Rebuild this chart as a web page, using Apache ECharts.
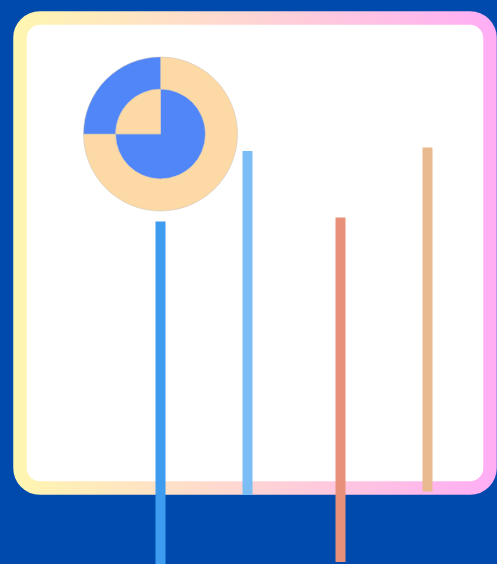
<!DOCTYPE html>
<html>
<head>
<meta charset="utf-8">
<script src="https://cdn.jsdelivr.net/npm/echarts@6/dist/echarts.min.js"></script>
<style>
html,body{margin:0;padding:0;background:#004aad;}
#main{width:497px;height:564px;}
</style>
</head>
<body>
<div id="main"></div>
<script>
// Data
const categories = ['A', 'B'];
const lowSeries1 = [0, 0.4];
const highSeries1 = [68.5, 69.3];
const lowSeries2 = [13.8, 14.5];
const highSeries2 = [82.6, 83.3];
const colorsSeries1 = ['#3d9cf0', '#e9907a'];
const colorsSeries2 = ['#7bbdf5', '#e9ba90'];
const innerPie = [{ name: 'a', value: 75 }, { name: 'b', value: 25 }];
const outerPie = [{ name: 'a', value: 75 }, { name: 'b', value: 25 }];
const innerColors = ['#5086f8', '#fdd9a6'];
const outerColors = ['#fdd9a6', '#5086f8'];

const chart = echarts.init(document.getElementById('main'));

function rangeData(highs, lows, colors) {
  return highs.map((h, i) => ({ value: h - lows[i], itemStyle: { color: colors[i] } }));
}

const option = {
  backgroundColor: '#004aad',
  animation: false,
  graphic: [{
    type: 'rect',
    z: -10,
    shape: { x: 20, y: 18, width: 470, height: 470, r: 20 },
    style: {
      fill: '#ffffff',
      lineWidth: 13.5,
      stroke: new echarts.graphic.LinearGradient(0, 0, 1, 0, [
        { offset: 0, color: '#fff6b0' },
        { offset: 0.5, color: '#ffd4d4' },
        { offset: 1, color: '#ffadf5' }
      ])
    }
  }],
  grid: { left: 114, width: 360, top: 64, bottom: 0 },
  xAxis: { type: 'category', data: categories, show: false, boundaryGap: true },
  yAxis: { type: 'value', min: 0, max: 100, show: false, splitLine: { show: false } },
  series: [
    { type: 'bar', stack: 's1', data: lowSeries1, barWidth: 10, barGap: '770%', itemStyle: { color: 'transparent' }, silent: true },
    { type: 'bar', stack: 's1', data: rangeData(highSeries1, lowSeries1, colorsSeries1), barWidth: 10, barGap: '770%' },
    { type: 'bar', stack: 's2', data: lowSeries2, barWidth: 10, barGap: '770%', itemStyle: { color: 'transparent' }, silent: true },
    { type: 'bar', stack: 's2', data: rangeData(highSeries2, lowSeries2, colorsSeries2), barWidth: 10, barGap: '770%' },
    {
      type: 'pie', center: [160.5, 134], radius: [0, 45], label: { show: false }, labelLine: { show: false },
      z: 5,
      itemStyle: { borderColor: '#c8c0b8', borderWidth: 0.5 },
      data: innerPie.map((d, i) => ({ ...d, itemStyle: { color: innerColors[i] } }))
    },
    {
      type: 'pie', center: [160.5, 134], radius: [45, 77], label: { show: false }, labelLine: { show: false },
      z: 5,
      itemStyle: { borderColor: '#c8c0b8', borderWidth: 0.5 },
      data: outerPie.map((d, i) => ({ ...d, itemStyle: { color: outerColors[i] } }))
    }
  ]
};
chart.setOption(option);
</script>
</body>
</html>
